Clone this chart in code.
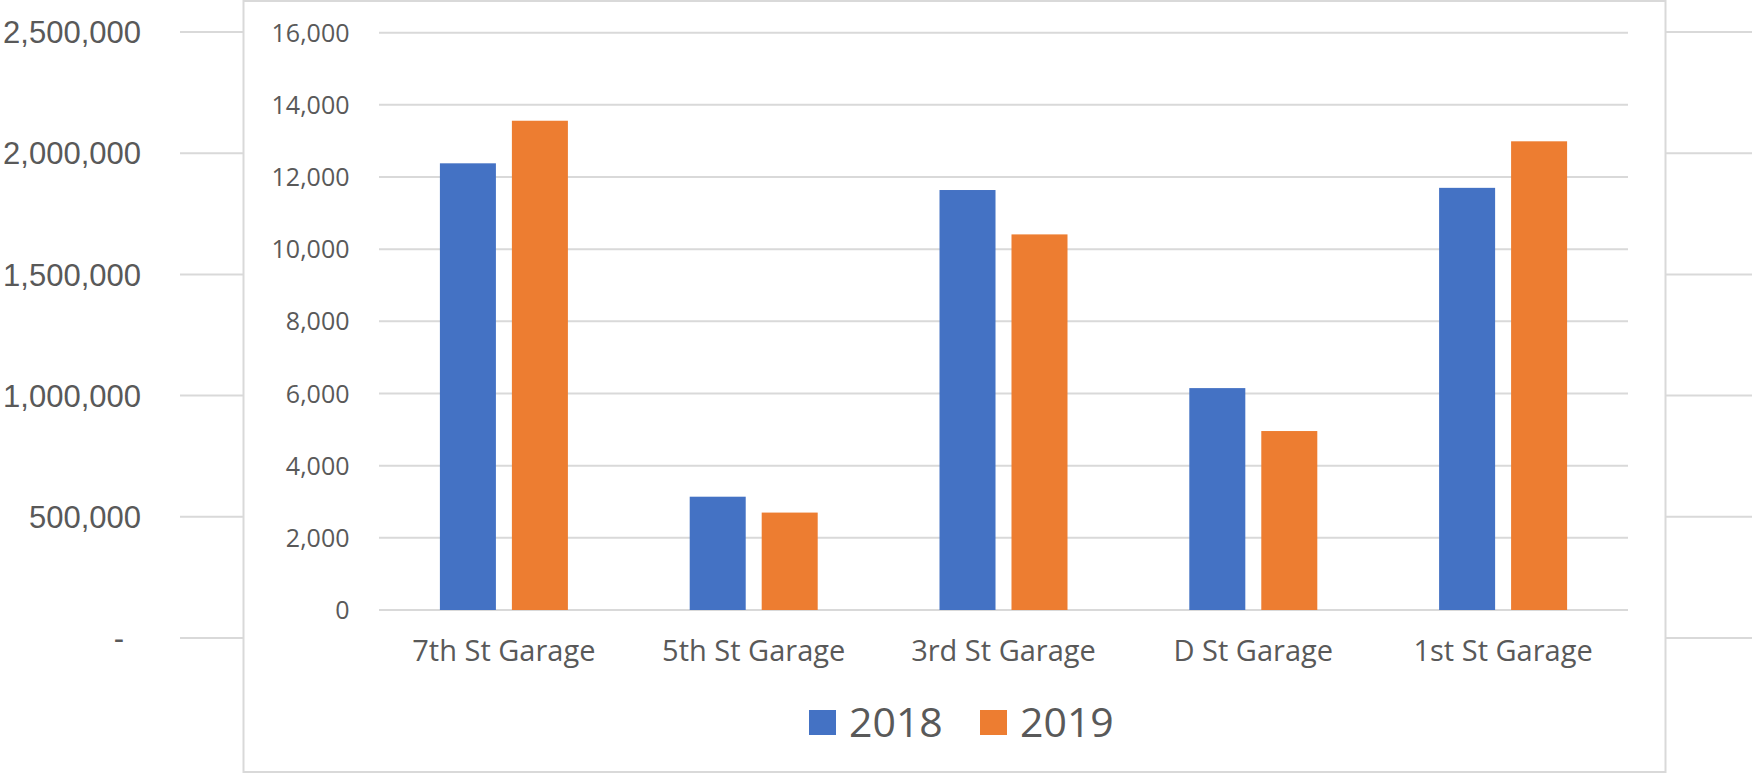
<!DOCTYPE html>
<html>
<head>
<meta charset="utf-8">
<script src="https://cdn.jsdelivr.net/npm/d3@7"></script>
<style>
    body { margin: 0; background: #fff; }
</style>
</head>
<body>
<div id="chart"></div>
<script>
    // back chart (only its axis shows behind the pasted one)
    const backTicks = [0, 500000, 1000000, 1500000, 2000000, 2500000];

    // front chart
    const categories = ['7th St Garage', '5th St Garage', '3rd St Garage', 'D St Garage', '1st St Garage'];
    const series = ['2018', '2019'];
    const values2018 = [12380, 3140, 11640, 6150, 11700];
    const values2019 = [13560, 2700, 10410, 4960, 12990];
    const yTicks = [0, 2000, 4000, 6000, 8000, 10000, 12000, 14000, 16000];
    const colors = ['#4472C4', '#ED7D31'];

    const W = 1752;
    const H = 775;

    const svg = d3
        .select('#chart')
        .append('svg')
        .attr('width', W)
        .attr('height', H);

    // back axis
    const yBack = d3
        .scaleLinear()
        .domain([0, 2500000])
        .range([638, 32]);

    svg
        .selectAll('line.backgrid')
        .data(backTicks)
        .enter()
        .append('line')
        .attr('class', 'backgrid')
        .attr('x1', 180)
        .attr('x2', W)
        .attr('y1', d => yBack(d))
        .attr('y2', d => yBack(d))
        .attr('stroke', '#d9d9d9')
        .attr('stroke-width', 2);

    svg
        .selectAll('text.backlabel')
        .data(backTicks)
        .enter()
        .append('text')
        .attr('class', 'backlabel')
        .attr('x', d => d === 0 ? 124 : 141)
        .attr('y', d => yBack(d))
        .attr('dy', '0.36em')
        .attr('text-anchor', 'end')
        .attr('font-family', 'Liberation Sans, Arial, sans-serif')
        .attr('font-size', 31)
        .attr('fill', '#595959')
        .text(d => d === 0 ? '-' : d3.format(',')(d));

    // pasted chart box
    svg
        .append('rect')
        .attr('x', 243.5)
        .attr('y', 1)
        .attr('width', 1422)
        .attr('height', 771)
        .attr('fill', '#fff')
        .attr('stroke', '#d9d9d9')
        .attr('stroke-width', 2);

    const x0 = d3
        .scaleBand()
        .domain(categories)
        .range([379, 1628])
        .paddingInner(0.4876)
        .paddingOuter(0.2438);

    const x1 = d3
        .scaleBand()
        .domain(series)
        .range([0, x0.bandwidth()])
        .paddingInner(0.222);

    const y = d3
        .scaleLinear()
        .domain([0, 16000])
        .range([610, 32.7]);

    const g = svg.append('g');

    // gridlines
    g
        .selectAll('line.grid')
        .data(yTicks)
        .enter()
        .append('line')
        .attr('class', 'grid')
        .attr('x1', 379)
        .attr('x2', 1628)
        .attr('y1', d => y(d))
        .attr('y2', d => y(d))
        .attr('stroke', '#d9d9d9')
        .attr('stroke-width', 2);

    // y labels
    g
        .selectAll('text.ylabel')
        .data(yTicks)
        .enter()
        .append('text')
        .attr('class', 'ylabel')
        .attr('x', 349.5)
        .attr('y', d => y(d))
        .attr('dy', '0.36em')
        .attr('text-anchor', 'end')
        .attr('font-family', 'Open Sans, sans-serif')
        .attr('font-size', 25)
        .attr('fill', '#595959')
        .text(d => d3.format(',')(d));

    // bars
    const rows = categories.map((c, i) => ({c: c, vals: [values2018[i], values2019[i]]}));

    g
        .selectAll('g.cat')
        .data(rows)
        .enter()
        .append('g')
        .attr('class', 'cat')
        .attr('transform', d => `translate(${x0(d.c)},0)`)
        .selectAll('rect')
        .data(d => d.vals.map((v, j) => ({s: series[j], v: v, j: j})))
        .enter()
        .append('rect')
        .attr('x', d => x1(d.s))
        .attr('y', d => y(d.v))
        .attr('width', x1.bandwidth())
        .attr('height', d => y(0) - y(d.v))
        .attr('fill', d => colors[d.j]);

    // category labels
    g
        .selectAll('text.xlabel')
        .data(categories)
        .enter()
        .append('text')
        .attr('class', 'xlabel')
        .attr('x', d => x0(d) + x0.bandwidth() / 2)
        .attr('y', 661)
        .attr('text-anchor', 'middle')
        .attr('font-family', 'Open Sans, sans-serif')
        .attr('font-size', 29)
        .attr('fill', '#595959')
        .text(d => d);

    // legend
    const legendX = [809, 980];

    const leg = g
        .selectAll('g.legend')
        .data(series)
        .enter()
        .append('g')
        .attr('class', 'legend')
        .attr('transform', (d, i) => `translate(${legendX[i]},710)`);

    leg
        .append('rect')
        .attr('width', 27)
        .attr('height', 25)
        .attr('fill', (d, i) => colors[i]);

    leg
        .append('text')
        .attr('x', 40)
        .attr('y', 12.5)
        .attr('dy', '0.36em')
        .attr('font-family', 'Open Sans, sans-serif')
        .attr('font-size', 41)
        .attr('fill', '#595959')
        .text(d => d);
</script>
</body>
</html>
